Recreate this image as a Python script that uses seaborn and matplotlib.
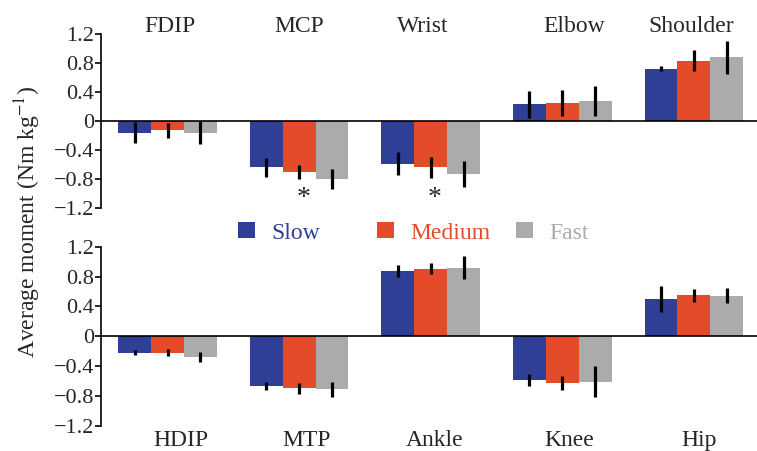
import numpy as np
import pandas as pd
import matplotlib
matplotlib.use("Agg")
import matplotlib.pyplot as plt
import seaborn as sns

# ---------------- data ----------------
speeds = ["Slow", "Medium", "Fast"]
colors = ["#2F3F96", "#E44B28", "#ABABAB"]

top_joints = ["FDIP", "MCP", "Wrist", "Elbow", "Shoulder"]
top_slow = [-0.16, -0.64, -0.59, 0.23, 0.72]
top_medium = [-0.13, -0.70, -0.64, 0.25, 0.83]
top_fast = [-0.16, -0.80, -0.73, 0.28, 0.88]
top_slow_err = [0.15, 0.13, 0.16, 0.19, 0.035]
top_medium_err = [0.10, 0.10, 0.15, 0.18, 0.145]
top_fast_err = [0.155, 0.14, 0.185, 0.205, 0.225]
top_signif = ["MCP", "Wrist"]  # asterisk under Medium

bot_joints = ["HDIP", "MTP", "Ankle", "Knee", "Hip"]
bot_slow = [-0.22, -0.67, 0.88, -0.59, 0.50]
bot_medium = [-0.22, -0.70, 0.905, -0.63, 0.55]
bot_fast = [-0.28, -0.71, 0.92, -0.61, 0.54]
bot_slow_err = [0.035, 0.05, 0.08, 0.08, 0.175]
bot_medium_err = [0.05, 0.075, 0.07, 0.095, 0.085]
bot_fast_err = [0.07, 0.10, 0.15, 0.21, 0.10]

yticks = [-1.2, -0.8, -0.4, 0, 0.4, 0.8, 1.2]
ytick_labels = ["\u22121.2", "\u22120.8", "\u22120.4", "0", "0.4", "0.8", "1.2"]

# label positions relative to group centre (data units)
top_label_dx = [0.02, 0.0, -0.06, 0.09, -0.02]
bot_label_dx = [0.10, 0.06, 0.03, 0.05, 0.04]

# ---------------- style ----------------
sns.set_style("white")
plt.rcParams["font.family"] = ["Liberation Serif", "DejaVu Serif"]
plt.rcParams["mathtext.fontset"] = "stix"


def long_df(joints, s, m, f):
    rows = []
    for name, vals in zip(speeds, [s, m, f]):
        for j, v in zip(joints, vals):
            rows.append({"joint": j, "speed": name, "value": v})
    return pd.DataFrame(rows)


fig = plt.figure(figsize=(7.57, 4.51), dpi=100)
ax_top = fig.add_axes([101 / 757, 1 - 208 / 451, 656 / 757, 174 / 451])
ax_bot = fig.add_axes([101 / 757, 1 - 425.7 / 451, 656 / 757, 179 / 451])

panels = [
    (ax_top, top_joints, (top_slow, top_medium, top_fast),
     (top_slow_err, top_medium_err, top_fast_err), top_label_dx, 1.045),
    (ax_bot, bot_joints, (bot_slow, bot_medium, bot_fast),
     (bot_slow_err, bot_medium_err, bot_fast_err), bot_label_dx, -0.082),
]

for ax, joints, vals, errs, ldx, ly in panels:
    df = long_df(joints, *vals)
    sns.barplot(data=df, x="joint", y="value", hue="speed", order=joints,
                hue_order=speeds, palette=colors, saturation=1, width=0.75,
                gap=0, errorbar=None, linewidth=0, legend=False, ax=ax)
    for cont, err in zip(ax.containers, errs):
        xs = [b.get_x() + b.get_width() / 2 for b in cont]
        ys = [b.get_height() for b in cont]
        ax.errorbar(xs, ys, yerr=err, fmt="none", ecolor="black",
                    elinewidth=2.3, capsize=0, zorder=3)
    ax.axhline(0, color="black", lw=1.2, zorder=4)
    ax.set_xlim(-0.506, 4.48)
    ax.set_ylim(-1.2, 1.2)
    ax.set_yticks(yticks)
    ax.set_yticklabels(ytick_labels)
    ax.set_xticks([])
    ax.set_xlabel("")
    ax.set_ylabel("")
    for side in ["top", "right", "bottom"]:
        ax.spines[side].set_visible(False)
    ax.spines["left"].set_color("black")
    ax.spines["left"].set_linewidth(1.2)
    ax.tick_params(axis="y", length=4, width=1.2, direction="out",
                   labelsize=16, pad=1, color="black", left=True)
    for i, j in enumerate(joints):
        ax.text(i + ldx[i], ly, j, transform=ax.get_xaxis_transform(),
                ha="center", va="center", fontsize=17)

# significance asterisks below Medium bars
med = ax_top.containers[1]
for j in top_signif:
    i = top_joints.index(j)
    b = med[i]
    ax_top.text(b.get_x() + b.get_width() / 2 + 0.03, -1.07, "*",
                ha="center", va="center", fontsize=20)

fig.text(28 / 757, 1 - 222 / 451, "Average moment (Nm kg$^{-1}$)",
         rotation=90, ha="center", va="center", fontsize=17)

# legend: three evenly spaced entries
leg_x = [238 / 757, 377 / 757, 516 / 757]
for k, name in enumerate(speeds):
    handle = ax_top.containers[k][0]
    leg = fig.legend([handle], [name], loc="center left",
                     bbox_to_anchor=(leg_x[k], 1 - 233 / 451), frameon=False,
                     handlelength=0.72, handleheight=0.65, handletextpad=0.68,
                     borderpad=0, borderaxespad=0, fontsize=17)
    for t in leg.get_texts():
        t.set_color(colors[k])

fig.savefig("out.png", dpi=100)
